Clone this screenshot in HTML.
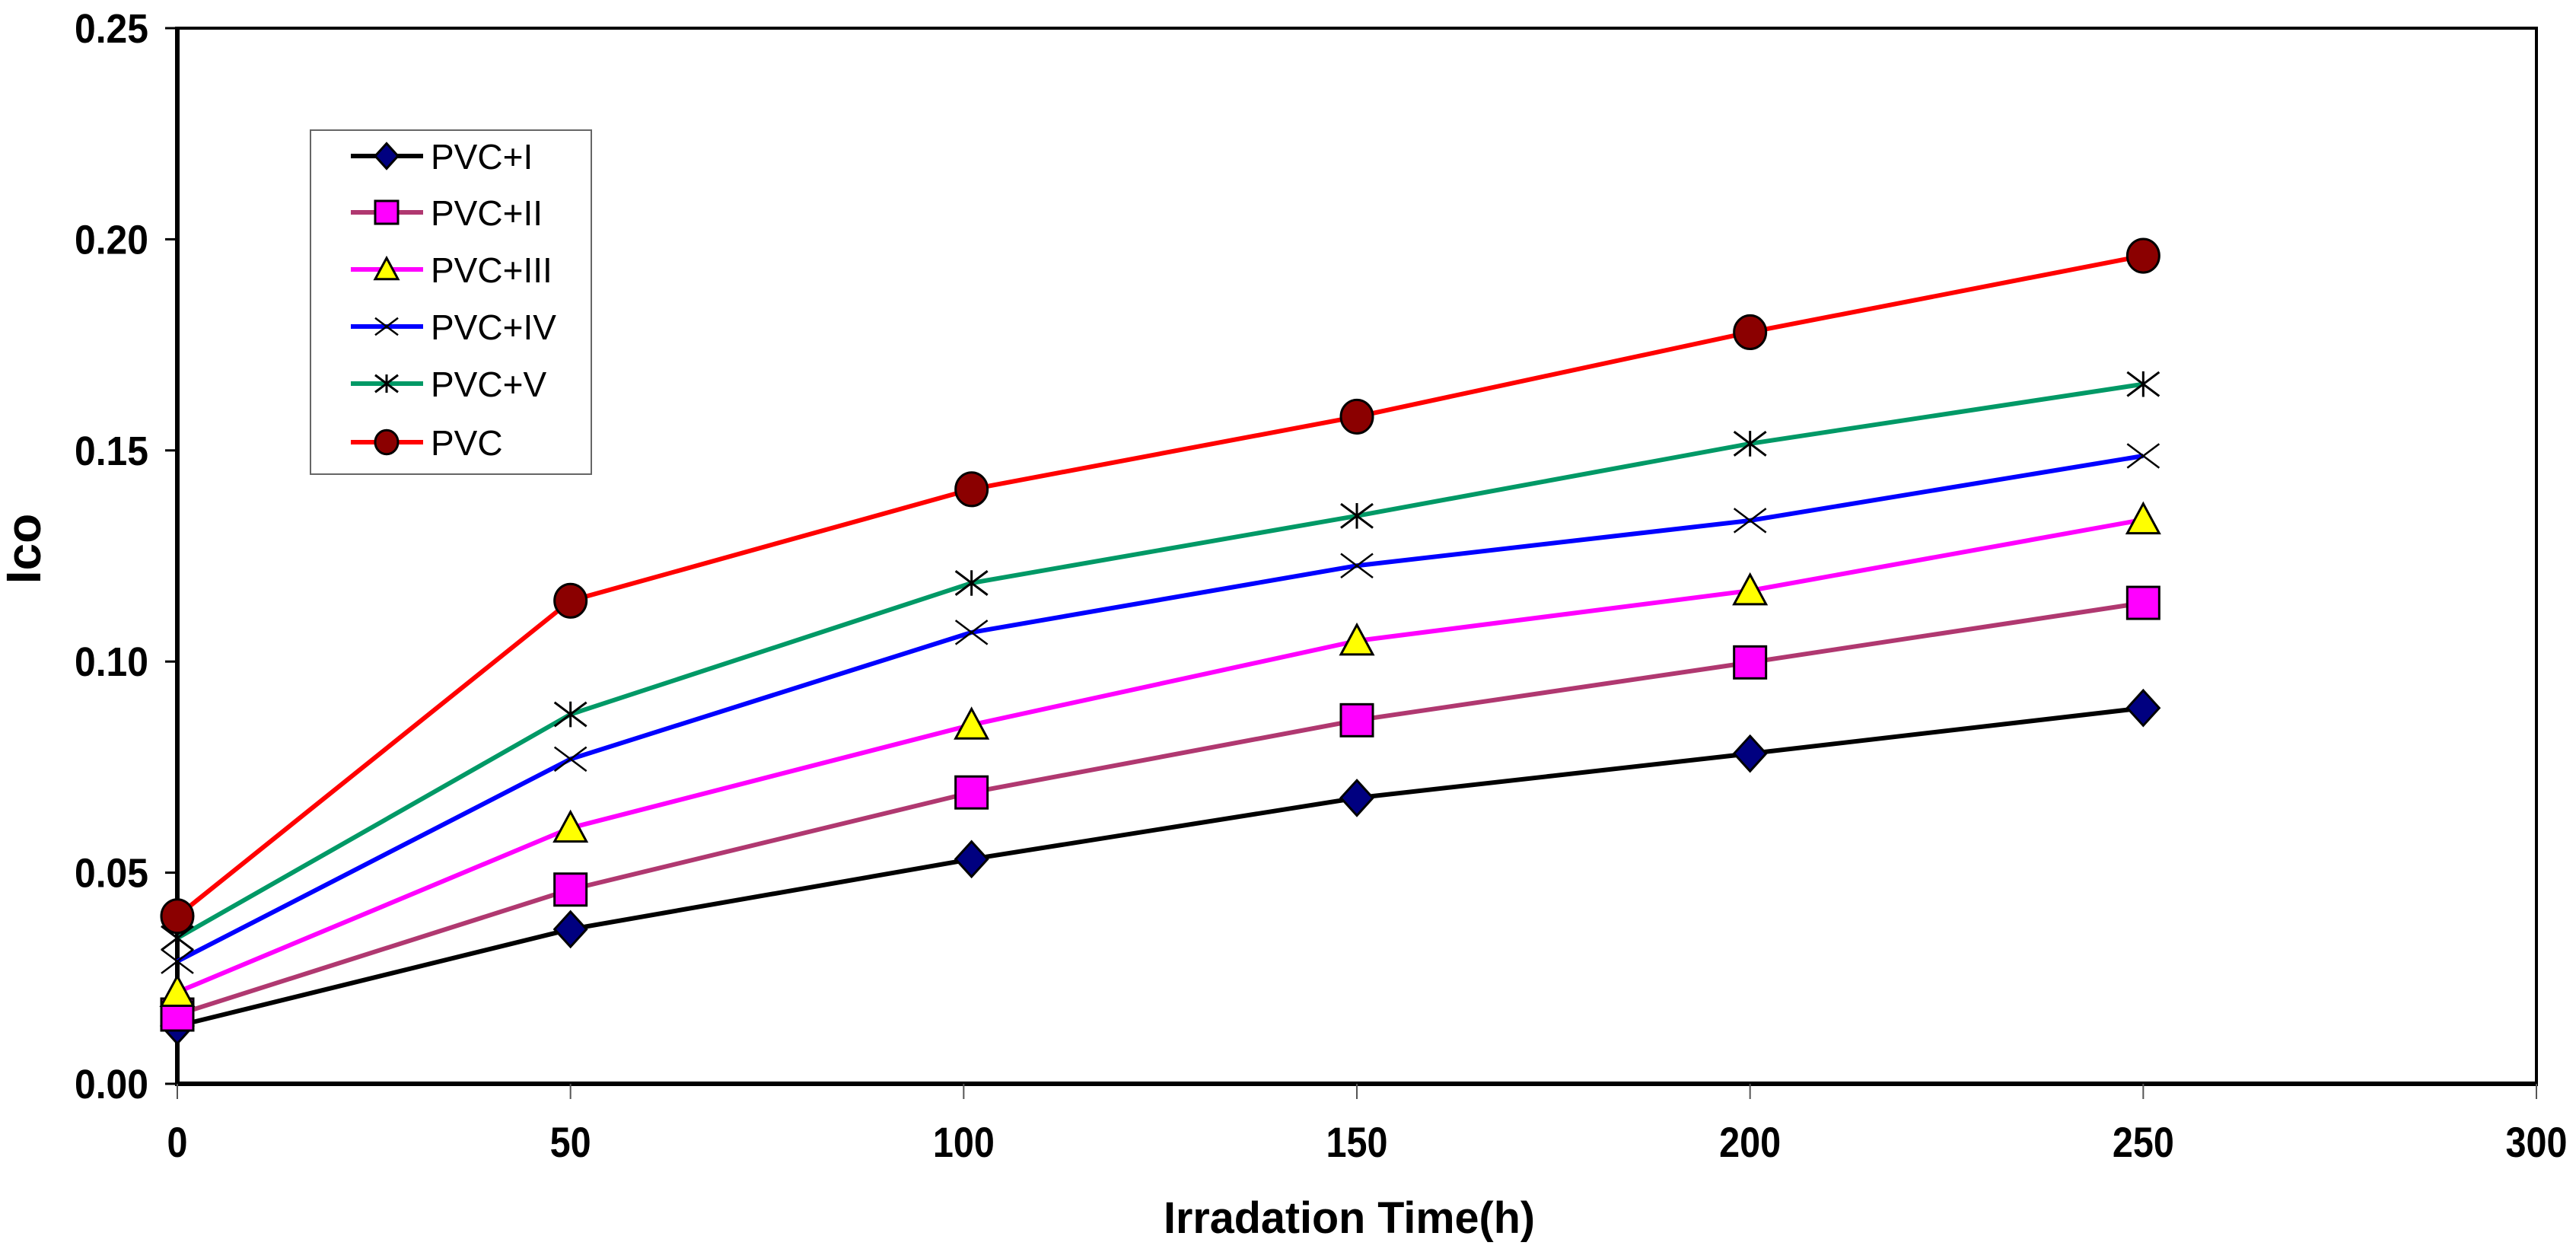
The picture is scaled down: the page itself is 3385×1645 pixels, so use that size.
<!DOCTYPE html>
<html><head><meta charset="utf-8"><style>
html,body{margin:0;padding:0;background:#fff;}
svg{display:block;font-family:"Liberation Sans",Arial,sans-serif;}
</style></head><body>
<svg id="chart" width="3385" height="1645" viewBox="0 0 3385 1645" xmlns="http://www.w3.org/2000/svg">
<rect x="0" y="0" width="3385" height="1645" fill="#fff"/>
<g id="grid"></g>
<g id="series"></g>
<g id="legend"></g>
</svg>
<script>
const xCategories = [0, 50, 101, 150, 200, 250];
const seriesNames = ["PVC+I", "PVC+II", "PVC+III", "PVC+IV", "PVC+V", "PVC"];
const valsPVC_I   = [0.0137, 0.0366, 0.0532, 0.0677, 0.0782, 0.0890];
const valsPVC_II  = [0.0164, 0.0460, 0.0690, 0.0861, 0.0998, 0.1139];
const valsPVC_III = [0.0217, 0.0606, 0.0850, 0.1049, 0.1168, 0.1336];
const valsPVC_IV  = [0.0290, 0.0769, 0.1069, 0.1227, 0.1334, 0.1487];
const valsPVC_V   = [0.0345, 0.0875, 0.1186, 0.1345, 0.1516, 0.1657];
const valsPVC     = [0.0397, 0.1144, 0.1408, 0.1580, 0.1780, 0.1961];
const yTicks = ["0.00", "0.05", "0.10", "0.15", "0.20", "0.25"];
const xTicks = ["0", "50", "100", "150", "200", "250", "300"];

const NS = "http://www.w3.org/2000/svg";
const X0 = 233, X1 = 3333, Y0 = 1424, Y1 = 37;
function xs(v){ return X0 + (v/300)*(X1-X0); }
function ys(v){ return Y0 - (v/0.25)*(Y0-Y1); }
function mk(tag, attrs, parent){
  const e = document.createElementNS(NS, tag);
  for (const k in attrs) e.setAttribute(k, attrs[k]);
  parent.appendChild(e);
  return e;
}
const gAx = document.getElementById('grid');
const gS = document.getElementById('series');
const gL = document.getElementById('legend');

// frame
let fr = mk('path', {d:`M${X0} ${Y1} L${X1} ${Y1} L${X1} ${Y0}`, fill:'none', stroke:'#000', 'stroke-width':4}, gAx);


let ya = mk('line', {x1:X0, y1:Y1-2, x2:X0, y2:Y0+3, stroke:'#000', 'stroke-width':6}, gAx);


let xa = mk('line', {x1:X0-3, y1:Y0, x2:X1+2, y2:Y0, stroke:'#000', 'stroke-width':6}, gAx);



yTicks.forEach((t) => {
  const y = ys(parseFloat(t));
  const tk = mk('line', {x1:X0-16, y1:y, x2:X0, y2:y, stroke:'#000', 'stroke-width':3}, gAx);
  
  
  const tx = mk('text', {x:195, y:y+19, 'text-anchor':'end', 'font-size':54, 'font-weight':'bold', fill:'#000', textLength:97, lengthAdjust:'spacingAndGlyphs'}, gAx);
  tx.textContent = t;
  
  
});
xTicks.forEach((t) => {
  const x = xs(parseFloat(t));
  const tk = mk('line', {x1:x, y1:Y0, x2:x, y2:Y0+20, stroke:'#555', 'stroke-width':2}, gAx);
  
  
  const tx = mk('text', {x:x, y:1520, 'text-anchor':'middle', 'font-size':56, 'font-weight':'bold', fill:'#000', textLength:27*t.length, lengthAdjust:'spacingAndGlyphs'}, gAx);
  tx.textContent = t;
  
  
});
let xt = mk('text', {x:1773, y:1620, 'text-anchor':'middle', 'font-size':58, 'font-weight':'bold', fill:'#000', textLength:488, lengthAdjust:'spacingAndGlyphs'}, gAx);
xt.textContent = 'Irradation Time(h)';


let yt = mk('text', {x:0, y:0, 'text-anchor':'middle', 'font-size':64, 'font-weight':'bold', fill:'#000', transform:'translate(53 721) rotate(-90)'}, gAx);
yt.textContent = 'Ico';



const styles = [
  {line:'#000000', marker:'diamond'},
  {line:'#b03870', marker:'square'},
  {line:'#ff00ff', marker:'triangle'},
  {line:'#0000ff', marker:'x'},
  {line:'#009966', marker:'star'},
  {line:'#ff0000', marker:'circle'}
];
const allVals = [valsPVC_I, valsPVC_II, valsPVC_III, valsPVC_IV, valsPVC_V, valsPVC];

function marker(type, cx, cy, s, parent){
  const h = s/2;
  let el;
  if (type === 'diamond') el = mk('path', {d:`M${cx} ${cy-h*1.1} L${cx+h} ${cy} L${cx} ${cy+h*1.1} L${cx-h} ${cy} Z`, fill:'#000080', stroke:'#000', 'stroke-width':3}, parent);
  else if (type === 'square') el = mk('rect', {x:cx-h, y:cy-h, width:s, height:s, fill:'#ff00ff', stroke:'#000', 'stroke-width':3}, parent);
  else if (type === 'triangle') el = mk('path', {d:`M${cx} ${cy-h} L${cx+h} ${cy+h*0.85} L${cx-h} ${cy+h*0.85} Z`, fill:'#ffff00', stroke:'#000', 'stroke-width':3}, parent);
  else if (type === 'circle') el = mk('ellipse', {cx:cx, cy:cy, rx:h, ry:h*1.05, fill:'#8b0000', stroke:'#000', 'stroke-width':3}, parent);
  else if (type === 'x') el = mk('path', {d:`M${cx-h} ${cy-h*0.75} L${cx+h} ${cy+h*0.75} M${cx-h} ${cy+h*0.75} L${cx+h} ${cy-h*0.75}`, stroke:'#000', 'stroke-width':2.5, fill:'none'}, parent);
  else el = mk('path', {d:`M${cx-h} ${cy-h*0.75} L${cx+h} ${cy+h*0.75} M${cx-h} ${cy+h*0.75} L${cx+h} ${cy-h*0.75} M${cx} ${cy-h*0.8} L${cx} ${cy+h*0.8}`, stroke:'#000', 'stroke-width':3, fill:'none'}, parent);
  return el;
}

allVals.forEach((vals, si) => {
  const g = mk('g', {}, gS);
  
  
  const pts = vals.map((v, i) => `${xs(xCategories[i])},${ys(v)}`).join(' ');
  const pl = mk('polyline', {points:pts, fill:'none', stroke:styles[si].line, 'stroke-width':6, 'stroke-linejoin':'round'}, g);
  
  
  vals.forEach((v, i) => {
    const m = marker(styles[si].marker, xs(xCategories[i]), ys(v), 42, g);
    
    
  });
});

// legend
const lb = mk('rect', {x:408, y:171, width:369, height:452, fill:'#fff', stroke:'#666', 'stroke-width':2}, gL);


const legendY = [205, 279, 354, 429, 504, 581];
seriesNames.forEach((n, i) => {
  const g = mk('g', {}, gL);
  
  
  const y = legendY[i];
  mk('line', {x1:461, y1:y, x2:556, y2:y, stroke:styles[i].line, 'stroke-width':6}, g);
  marker(styles[i].marker, 508, y, 30, g);
  const t = mk('text', {x:566, y:y+17, 'font-size':46, fill:'#000'}, g);
  t.textContent = n;
  
  
});
</script>
</body></html>
